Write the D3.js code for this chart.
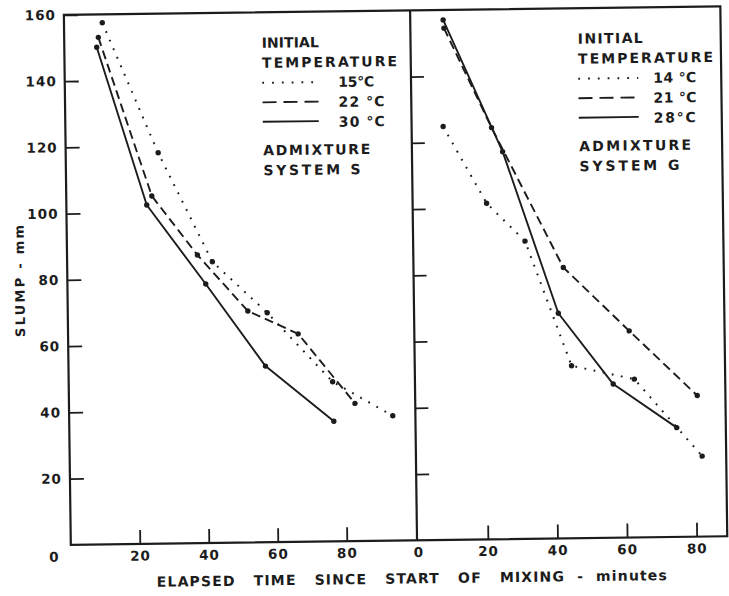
<!DOCTYPE html>
<html><head><meta charset="utf-8">
<script src="https://cdn.jsdelivr.net/npm/d3@7"></script>
<style>
body{margin:0;background:#fff}
text{font-family:"DejaVu Sans",sans-serif;font-weight:bold;fill:#1c1c1c}
</style>
</head><body>
<svg id="chart" width="729" height="596"></svg>
<script>
// ---------- data ----------
const yTicks = [20, 40, 60, 80, 100, 120, 140, 160];
const xTicks = [0, 20, 40, 60, 80];
const legendHead = ["INITIAL", "TEMPERATURE"];
const leftTemps = ["15°C", "22 °C", "30 °C"];
const rightTemps = ["14 °C", "21 °C", "28°C"];
const leftSystem = ["ADMIXTURE", "SYSTEM S"];
const rightSystem = ["ADMIXTURE", "SYSTEM G"];
const xTitle = "ELAPSED   TIME   SINCE   START   OF   MIXING  -  minutes";
const yTitle = "SLUMP - mm";

// Admixture system S (left panel): elapsed time (min), slump (mm)
const s15x = [11.1, 26.8, 42.1, 57.8, 76.5, 93.8];
const s15y = [157.5, 118.0, 84.9, 69.3, 48.2, 37.7];
const s22x = [9.9, 24.8, 37.8, 52.2, 66.7, 82.9];
const s22y = [153.1, 105.0, 87.0, 69.9, 62.8, 41.6];
const s30x = [9.4, 23.3, 40.1, 57.1, 76.7];
const s30y = [150.1, 102.3, 78.2, 53.2, 36.3];

// Admixture system G (right panel)
const g14x = [8.7, 20.9, 31.8, 44.7, 62.7, 81.9];
const g14y = [124.8, 101.5, 89.9, 52.1, 47.8, 24.3];
const g21x = [9.3, 22.6, 42.7, 61.4, 80.7];
const g21y = [154.5, 124.3, 81.8, 62.4, 42.6];
const g28x = [9.1, 25.7, 41.1, 56.6, 74.7];
const g28y = [157.0, 117.0, 68.0, 46.4, 33.0];

// ---------- layout ----------
const ink = "#1c1c1c";
const svg = d3.select("#chart");
const root = svg.append("g").attr("transform", "rotate(-0.75 365 290)");

const y = d3.scaleLinear().domain([0, 160]).range([541, 11]);
const xL = d3.scaleLinear().domain([0, 100]).range([67.5, 412.5]);
const xR = d3.scaleLinear().domain([0, 88.8]).range([415, 724]);
const divX = (xL(100) + xR(0)) / 2;

const styles = {
  dotted: {dash: "1.8,7.5", w: 2},
  dashed: {dash: "9,5", w: 1.9},
  solid: {dash: null, w: 1.9}
};
const legendDash = {dotted: "1.8,8", dashed: "14,7", solid: null};

const zip = (xs, ys) => xs.map((v, i) => [v, ys[i]]);
const panels = [
  {x: xL, series: [
    {pts: zip(s15x, s15y), style: "dotted"},
    {pts: zip(s22x, s22y), style: "dashed"},
    {pts: zip(s30x, s30y), style: "solid"}]},
  {x: xR, series: [
    {pts: zip(g14x, g14y), style: "dotted"},
    {pts: zip(g21x, g21y), style: "dashed"},
    {pts: zip(g28x, g28y), style: "solid"}]}
];

// frame
root.append("rect")
  .attr("x", xL(0)).attr("y", y(160))
  .attr("width", xR.range()[1] - xL(0)).attr("height", y(0) - y(160))
  .attr("fill", "none").attr("stroke", ink).attr("stroke-width", 2.2);
root.append("line")
  .attr("x1", divX).attr("x2", divX).attr("y1", y(160)).attr("y2", y(0))
  .attr("stroke", ink).attr("stroke-width", 2.2);

function styleAxis(g) {
  g.select(".domain").remove();
  g.selectAll(".tick line").attr("stroke", ink).attr("stroke-width", 1.8);
  g.selectAll(".tick text")
    .attr("fill", ink)
    .style("font-family", "'DejaVu Sans', sans-serif")
    .style("font-weight", "bold")
    .style("font-size", "13.5px")
    .style("letter-spacing", "1px");
}

// left y axis with labels
root.append("g").attr("transform", `translate(${xL(0)},0)`)
  .call(d3.axisLeft(y).tickValues(yTicks).tickSize(-14).tickPadding(8))
  .call(styleAxis);
// right y axis ticks only
root.append("g").attr("transform", `translate(${divX},0)`)
  .call(d3.axisLeft(y).tickValues(yTicks.filter(v => v < 160)).tickSize(-13).tickFormat(""))
  .call(styleAxis);

// x axes
panels.forEach((p, i) => {
  const g = root.append("g").attr("transform", `translate(0,${y(0)})`)
    .call(d3.axisBottom(p.x).tickValues(xTicks).tickSize(-14).tickPadding(7))
    .call(styleAxis);
  g.selectAll(".tick").filter(d => d === 0).select("line").remove();
  if (i === 0) g.selectAll(".tick").filter(d => d === 0).select("text").attr("x", -17);
});

// series
panels.forEach(p => {
  const line = d3.line().x(d => p.x(d[0])).y(d => y(d[1]));
  p.series.forEach(s => {
    const st = styles[s.style];
    root.append("path").datum(s.pts)
      .attr("d", line).attr("fill", "none").attr("stroke", ink)
      .attr("stroke-width", st.w)
      .attr("stroke-dasharray", st.dash)
      .attr("stroke-linejoin", "round");
    root.append("g").selectAll("circle").data(s.pts).join("circle")
      .attr("cx", d => p.x(d[0])).attr("cy", d => y(d[1]))
      .attr("r", 2.7).attr("fill", ink);
  });
});

// legends
const legends = [
  {x0: 265, lineEnd: 321, tx: 341, temps: leftTemps, sys: leftSystem,
   headLen: [57, 135], tempLen: [36, 46, 46], sysLen: [107, 97]},
  {x0: 581, lineEnd: 641, tx: 656, temps: rightTemps, sys: rightSystem,
   headLen: [65, 135], tempLen: [43, 43, 42], sysLen: [112, 100]}
];
const styleOrder = ["dotted", "dashed", "solid"];
legends.forEach(L => {
  const g = root.append("g");
  const txt = (s, x, yb, len) => g.append("text").attr("x", x).attr("y", yb)
    .attr("font-size", 14).attr("textLength", len).attr("lengthAdjust", "spacing").text(s);
  legendHead.forEach((s, i) => txt(s, L.x0, 46.5 + i * 20, L.headLen[i]));
  L.temps.forEach((s, i) => {
    txt(s, L.tx, 86.5 + i * 20, L.tempLen[i]);
    const st = styleOrder[i];
    g.append("line").attr("x1", L.x0).attr("x2", L.lineEnd)
      .attr("y1", 81.5 + i * 19.5).attr("y2", 81.5 + i * 19.5)
      .attr("stroke", ink).attr("stroke-width", styles[st].w)
      .attr("stroke-dasharray", legendDash[st]);
  });
  L.sys.forEach((s, i) => txt(s, L.x0, 154 + i * 20, L.sysLen[i]));
});

// axis titles
root.append("text").attr("x", 153).attr("y", 584)
  .style("white-space", "pre")
  .attr("font-size", 14).attr("textLength", 510).attr("lengthAdjust", "spacing")
  .text(xTitle);
root.append("text")
  .attr("transform", "translate(24.5,276.5) rotate(-90)")
  .attr("text-anchor", "middle")
  .attr("font-size", 13).attr("textLength", 112).attr("lengthAdjust", "spacing")
  .text(yTitle);
</script>
</body></html>
